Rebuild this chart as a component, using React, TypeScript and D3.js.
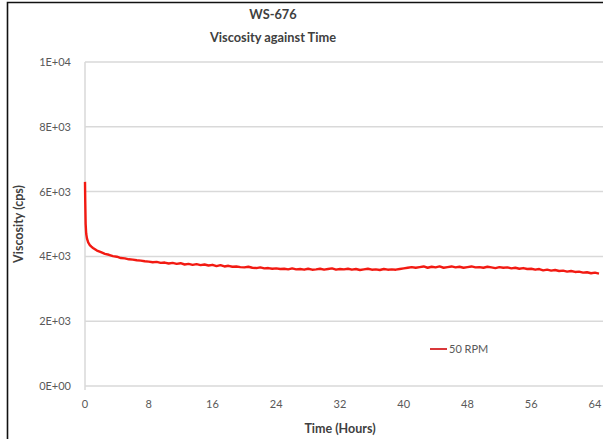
import * as d3 from 'd3';

// Chart data
const TITLE_LINES = ["WS-676", "Viscosity against Time"];
const SERIES_NAME = "50 RPM";
const X_TICKS = [0, 8, 16, 24, 32, 40, 48, 56, 64];
const Y_TICKS = [0, 2000, 4000, 6000, 8000, 10000];

// first minutes of the run (hours, cps)
const EARLY_TIMES = [0, 0.03, 0.08, 0.15, 0.25, 0.4, 0.6, 0.8];
const EARLY_VALUES = [6300, 5700, 5000, 4700, 4550, 4430, 4350, 4300];

// then one reading every half hour from hour 1
const LATE_START = 1;
const LATE_STEP = 0.5;
const LATE_VALUES = [
  4260, 4180, 4130, 4080, 4050, 4010, 3990, 3950, 3940, 3910, 3900, 3880, 3870, 3850,
  3840, 3820, 3830, 3800, 3810, 3780, 3800, 3770, 3790, 3750, 3770, 3740, 3760, 3730,
  3750, 3720, 3740, 3700, 3730, 3690, 3710, 3680, 3690, 3670, 3660, 3680, 3650, 3640,
  3660, 3630, 3640, 3620, 3630, 3610, 3620, 3600, 3630, 3600, 3610, 3590, 3620, 3590,
  3600, 3620, 3590, 3610, 3630, 3590, 3610, 3600, 3620, 3590, 3610, 3580, 3600, 3620,
  3590, 3600, 3580, 3610, 3590, 3600, 3590, 3610, 3630, 3650, 3670, 3650, 3670, 3690,
  3650, 3680, 3660, 3690, 3650, 3670, 3690, 3660, 3680, 3650, 3670, 3690, 3660, 3670,
  3650, 3680, 3660, 3640, 3670, 3650, 3660, 3630, 3650, 3620, 3640, 3610, 3620, 3590,
  3610, 3570, 3590, 3560, 3580, 3550, 3560, 3530, 3550, 3520, 3530, 3500, 3510, 3480,
  3500, 3470,
];

const WIDTH = 603;
const HEIGHT = 439;
const FONT = "Lato, 'Open Sans', sans-serif";
const TEXT_COLOR = "#595959";
const GRID_COLOR = "#d9d9d9";
const LINE_COLOR = "#f21a12";

function sciLabel(v: number) {
  if (v === 0) return "0E+00";
  const e = Math.floor(Math.log10(v));
  const m = Math.round(v / Math.pow(10, e));
  return `${m}E+${String(e).padStart(2, "0")}`;
}

export default function App() {
  const points: [number, number][] = [
    ...EARLY_TIMES.map((t, i) => [t, EARLY_VALUES[i]] as [number, number]),
    ...LATE_VALUES.map((v, i) => [LATE_START + i * LATE_STEP, v] as [number, number]),
  ];

  const x = d3.scaleLinear().domain([0, 64]).range([85, 595]);
  const y = d3.scaleLinear().domain([0, 10000]).range([386, 62]);
  const plotRight = 605;

  const line = d3.line<[number, number]>()
    .x(d => x(d[0]))
    .y(d => y(d[1]));

  return (
    <div style={{ position: 'fixed', left: 0, top: 0, background: '#fff' }}>
      <svg width={WIDTH} height={HEIGHT} style={{ display: 'block', fontFamily: FONT }}>
        <rect x={0} y={0} width={WIDTH} height={HEIGHT} fill="#fff" />
        {/* frame: only left and top edges fall inside the picture */}
        <path d={`M7.5,${HEIGHT + 2} V2.5 H${WIDTH + 2}`} fill="none" stroke="#111" strokeWidth={1.6} />

        {/* titles */}
        {TITLE_LINES.map((t, i) => (
          <text key={t} x={273} y={19 + i * 23} textAnchor="middle" fontSize={12.8}
            fontWeight="bold" fill="#404040">{t}</text>
        ))}

        {/* horizontal gridlines */}
        {Y_TICKS.map(v => (
          <line key={v} x1={x(0)} x2={plotRight} y1={y(v)} y2={y(v)}
            stroke={GRID_COLOR} strokeWidth={1.5} />
        ))}
        <line x1={x(0)} x2={x(0)} y1={y(10000)} y2={y(0) + 4} stroke={GRID_COLOR} strokeWidth={1.5} />

        {/* y tick labels */}
        {Y_TICKS.map(v => (
          <text key={v} x={71} y={y(v) + 4} textAnchor="end" fontSize={11} fill={TEXT_COLOR}>
            {sciLabel(v)}
          </text>
        ))}

        {/* x tick labels */}
        {X_TICKS.map(v => (
          <text key={v} x={x(v)} y={408} textAnchor="middle" fontSize={11} fill={TEXT_COLOR}>{v}</text>
        ))}

        {/* axis titles */}
        <text x={340} y={433} textAnchor="middle" fontSize={12.5} fontWeight="bold" fill="#404040">
          Time (Hours)
        </text>
        <text transform={`translate(23, ${224}) rotate(-90)`} textAnchor="middle" fontSize={12.5}
          fontWeight="bold" fill="#404040">
          Viscosity (cps)
        </text>

        {/* series */}
        <path d={line(points) ?? ""} fill="none" stroke={LINE_COLOR} strokeWidth={2.4}
          strokeLinejoin="round" />

        {/* legend */}
        <line x1={430} x2={447} y1={349} y2={349} stroke="#d9383a" strokeWidth={2} />
        <text x={449} y={353} fontSize={11} fill={TEXT_COLOR}>{SERIES_NAME}</text>
      </svg>
    </div>
  );
}
